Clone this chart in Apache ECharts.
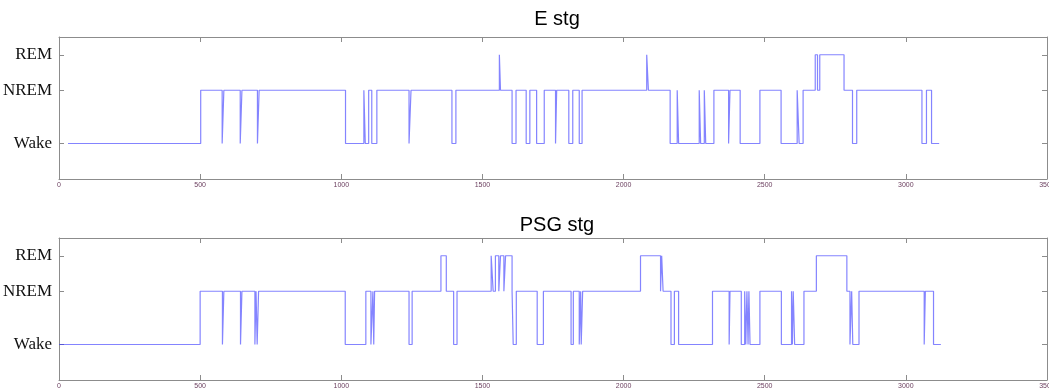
<!DOCTYPE html>
<html>
<head>
<meta charset="utf-8">
<script src="https://cdn.jsdelivr.net/npm/echarts@6/dist/echarts.min.js"></script>
<style>
  html, body { margin: 0; padding: 0; background: #fff; }
  #chart { width: 1049px; height: 391px; }
</style>
</head>
<body>
<div id="chart"></div>
<script>
// stage indices
const W = 0, N = 1, R = 2;
const stageNames = ["Wake", "NREM", "REM"];
const stageLevels = [0, 3, 5];

const titles = ["E stg", "PSG stg"];

// [time, stage] change points, stage held until next point
const eStg = [
  [32, W], [502, N], [578, W], [584, N], [642, W], [648, N], [703, W], [709, N],
  [1015, W], [1080, N], [1085, W], [1097, N], [1108, W], [1126, N], [1240, W], [1247, N],
  [1392, W], [1406, N], [1560, R], [1564, N], [1605, W], [1619, N], [1655, W], [1668, N],
  [1692, W], [1719, N], [1759, W], [1763, N], [1806, W], [1820, N], [1843, W], [1853, N],
  [2082, R], [2088, N], [2165, W], [2190, N], [2195, W], [2268, N], [2273, W], [2286, N],
  [2291, W], [2320, N], [2372, W], [2377, N], [2413, W], [2483, N], [2558, W], [2615, N],
  [2622, W], [2636, N], [2679, R], [2687, N], [2695, R], [2781, N], [2811, W], [2826, N],
  [3057, W], [3073, N], [3091, W], [3118, W]
];

const psgStg = [
  [0, W], [500, N], [579, W], [584, N], [643, W], [648, N], [694, W], [698, N],
  [702, W], [707, N], [1014, W], [1087, N], [1105, W], [1112, N], [1115, W], [1118, N],
  [1240, W], [1251, N], [1353, R], [1372, N], [1398, W], [1410, N], [1531, R], [1538, N],
  [1546, R], [1558, N], [1564, R], [1576, N], [1582, R], [1605, N], [1609, W], [1620, N],
  [1694, W], [1716, N], [1814, W], [1822, N], [1843, W], [1848, N], [1850, W], [1855, N],
  [2060, R], [2131, N], [2135, R], [2140, N], [2168, W], [2180, N], [2195, W], [2315, N],
  [2374, W], [2377, N], [2417, W], [2429, N], [2433, W], [2437, N], [2441, W], [2444, N],
  [2448, W], [2483, N], [2559, W], [2595, N], [2598, W], [2601, N], [2606, W], [2639, N],
  [2683, R], [2791, N], [2802, W], [2808, N], [2812, W], [2834, N], [3065, W], [3069, N],
  [3098, W], [3124, W]
];

const axisColor = "#8c8c8c";
const lineColor = "rgba(50, 50, 255, 0.6)";

const grids = [
  { left: 59, right: 2, top: 37, height: 142, outerBoundsMode: "none", containLabel: false },
  { left: 59, right: 2, top: 238, height: 142, outerBoundsMode: "none", containLabel: false },
];

function xAxisPair(gi) {
  const base = {
    type: "value", gridIndex: gi, min: 0, max: 3500, interval: 500,
    splitLine: { show: false },
    axisLine: { show: true, onZero: false, lineStyle: { color: axisColor } },
    axisTick: { show: true, inside: true, length: 5, lineStyle: { color: axisColor } },
  };
  return [
    { ...base, position: "bottom",
      axisLabel: { show: true, fontSize: 7, color: "#6b3f5f", margin: 3, fontFamily: "Liberation Sans",
        formatter: (v) => String(v), showMaxLabel: true } },
    { ...base, position: "top", axisLabel: { show: false } },
  ];
}

function yAxisPair(gi) {
  const base = {
    type: "value", gridIndex: gi, min: -2, max: 6,
    splitLine: { show: false },
    axisLine: { show: true, onZero: false, lineStyle: { color: axisColor } },
    axisTick: { show: true, inside: true, length: 5, customValues: stageLevels, lineStyle: { color: axisColor } },
  };
  return [
    { ...base, position: "left",
      axisLabel: {
        show: true, customValues: stageLevels, margin: 7,
        fontSize: 17, color: "#111", fontFamily: "Liberation Serif",
        formatter: (v) => stageNames[stageLevels.indexOf(v)] || "",
      } },
    { ...base, position: "right", axisLabel: { show: false } },
  ];
}

// hypnogram: hold each stage until the next change, then jump vertically
function toSteps(points) {
  const out = [];
  points.forEach((p, i) => {
    if (i > 0) out.push([p[0], stageLevels[points[i - 1][1]]]);
    out.push([p[0], stageLevels[p[1]]]);
  });
  return out;
}

function toSeries(points, gi) {
  return {
    type: "line",
    xAxisIndex: gi * 2,
    yAxisIndex: gi * 2,
    symbol: "none",
    data: toSteps(points),
    lineStyle: { color: lineColor, width: 1.2 },
    itemStyle: { color: lineColor },
  };
}

const chart = echarts.init(document.getElementById("chart"), null, { renderer: "canvas" });

chart.setOption({
  animation: false,
  backgroundColor: "#fff",
  title: [
    { text: titles[0], left: 552, top: 4, textAlign: "center",
      textStyle: { fontSize: 20, fontWeight: "normal", color: "#000", fontFamily: "Liberation Sans" } },
    { text: titles[1], left: 552, top: 210, textAlign: "center",
      textStyle: { fontSize: 20, fontWeight: "normal", color: "#000", fontFamily: "Liberation Sans" } },
  ],
  grid: grids,
  xAxis: [...xAxisPair(0), ...xAxisPair(1)],
  yAxis: [...yAxisPair(0), ...yAxisPair(1)],
  series: [toSeries(eStg, 0), toSeries(psgStg, 1)],
});
</script>
</body>
</html>
